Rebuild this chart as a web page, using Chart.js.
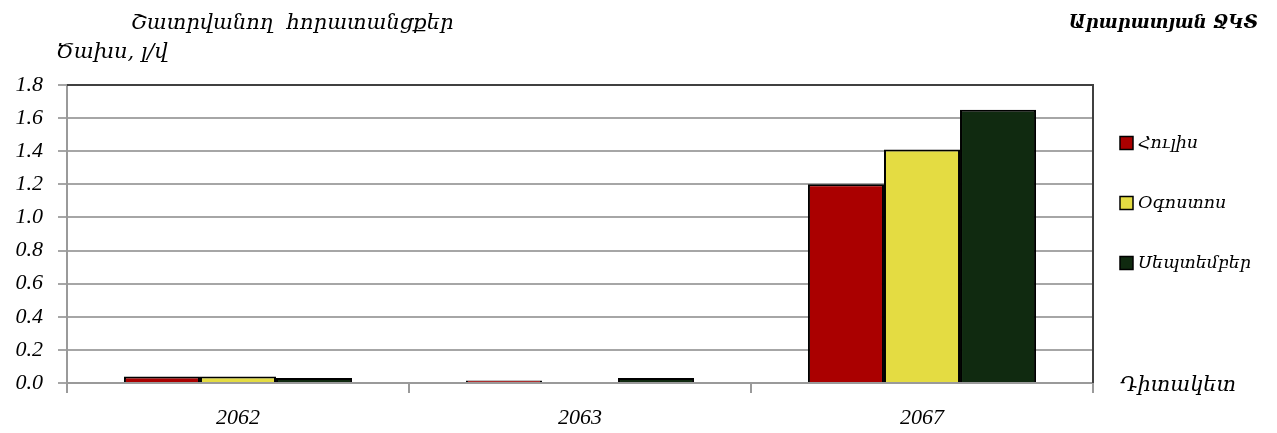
<!DOCTYPE html>
<html lang="hy">
<head>
<meta charset="UTF-8">
<title>Շատրվանող հորատանցքեր</title>
<script src="https://cdn.jsdelivr.net/npm/chart.js"></script>
<style>
  html, body { margin: 0; padding: 0; background: #fff; }
  #wrap { width: 1277px; height: 433px; }
</style>
</head>
<body>
<div id="wrap"><canvas id="chart"></canvas></div>

<script>
// Տվյալներ
var kategorianer = ['2062', '2063', '2067'];
var hulis = [0.04, 0.015, 1.20];
var ogostos = [0.04, 0, 1.41];
var september = [0.03, 0.03, 1.65];
var yTicks = [0, 0.2, 0.4, 0.6, 0.8, 1.0, 1.2, 1.4, 1.6, 1.8];

var serif = "'Liberation Serif', 'DejaVu Serif', serif";
var armFont = "'DejaVu Serif', serif";

// Վերնագրեր, լեգենդ և սահմանագծեր
var textPlugin = {
    id: 'texts',
    afterDraw: function(chart) {
        var ctx = chart.ctx;
        var a = chart.chartArea;
        ctx.save();
        // վերևի և աջ սահման
        ctx.strokeStyle = '#404040';
        ctx.lineWidth = 2;
        ctx.beginPath();
        ctx.moveTo(a.left, a.top);
        ctx.lineTo(a.right, a.top);
        ctx.lineTo(a.right, a.bottom);
        ctx.stroke();

        ctx.fillStyle = '#000';
        ctx.textBaseline = 'middle';
        ctx.font = 'italic 21px ' + armFont;
        ctx.textAlign = 'left';
        ctx.fillText('Շատրվանող  հորատանցքեր', 131, 24);
        ctx.fillText('Ծախս, լ/վ', 56, 53);
        ctx.fillText('Դիտակետ', 1120, 386);
        ctx.font = 'italic bold 18px ' + armFont;
        ctx.textAlign = 'right';
        ctx.fillText('Արարատյան ՋԿՏ', 1258, 23);

        // լեգենդ
        ctx.font = 'italic 17.5px ' + armFont;
        ctx.textAlign = 'left';
        chart.data.datasets.forEach(function(ds, i) {
            var y = a.top + 58 + i * 60;
            ctx.fillStyle = ds.backgroundColor;
            ctx.fillRect(a.right + 27, y - 6.5, 13, 13);
            ctx.strokeStyle = '#000';
            ctx.lineWidth = 1.5;
            ctx.strokeRect(a.right + 27, y - 6.5, 13, 13);
            ctx.fillStyle = '#000';
            ctx.fillText(ds.label, a.right + 45, y);
        });
        ctx.restore();
    }
};

var ctx = document.getElementById('chart').getContext('2d');
var chart = new Chart(ctx, {
    type: 'bar',
    data: {
        labels: kategorianer,
        datasets: [
            { label: 'Հուլիս', data: hulis, backgroundColor: '#AA0000' },
            { label: 'Օգոստոս', data: ogostos, backgroundColor: '#E4DC42' },
            { label: 'Սեպտեմբեր', data: september, backgroundColor: '#102A10' }
        ].map(function(d) {
            d.borderColor = '#000';
            d.borderWidth = 2;
            d.categoryPercentage = 0.667;
            d.barPercentage = 1.0;
            return d;
        })
    },
    options: {
        responsive: true,
        maintainAspectRatio: false,
        animation: false,
        layout: { padding: { top: 85, left: 0, right: 184, bottom: 0 } },
        plugins: {
            tooltip: { enabled: false },
            legend: { display: false }
        },
        scales: {
            x: {
                afterFit: function(scale) { scale.height = 50; },
                grid: {
                    offset: true,
                    drawOnChartArea: false,
                    drawTicks: true,
                    tickLength: 10,
                    color: '#9a9a9a',
                    lineWidth: 2
                },
                border: { color: '#9a9a9a', width: 2 },
                ticks: {
                    color: '#000',
                    padding: 12,
                    font: { family: serif, style: 'italic', size: 22 }
                }
            },
            y: {
                min: 0,
                max: 1.8,
                afterFit: function(scale) { scale.width = 67; },
                afterBuildTicks: function(axis) {
                    axis.ticks = yTicks.map(function(v) { return { value: v }; });
                },
                grid: {
                    color: '#a6a6a6',
                    lineWidth: 2,
                    tickLength: 9
                },
                border: { color: '#9a9a9a', width: 2 },
                ticks: {
                    color: '#000',
                    padding: 15,
                    font: { family: serif, style: 'italic', size: 22 },
                    callback: function(v) { return Number(v).toFixed(1); }
                }
            }
        }
    },
    plugins: [textPlugin]
});
</script>
</body>
</html>
